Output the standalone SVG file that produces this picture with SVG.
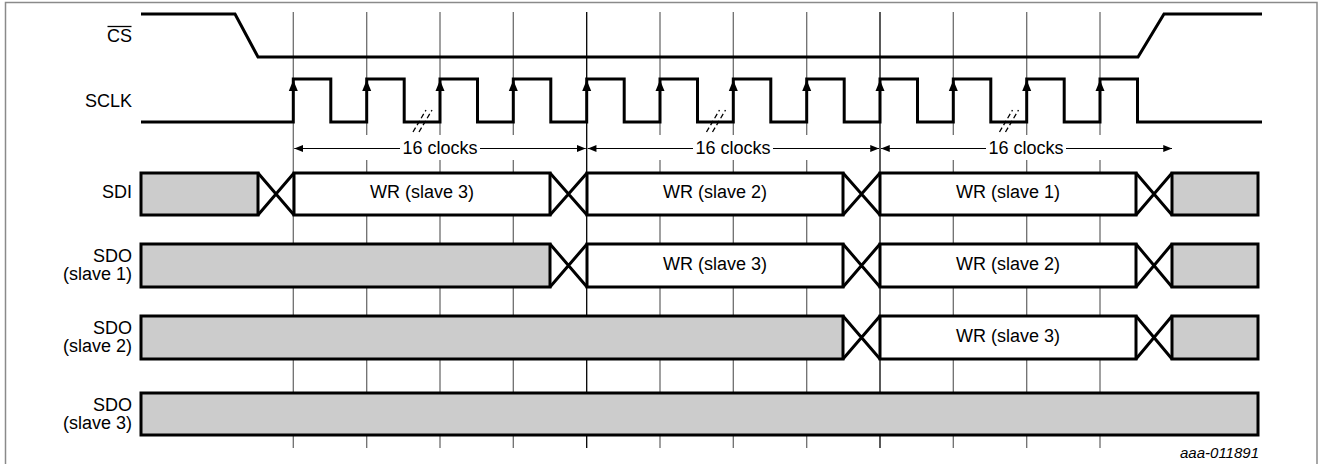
<svg xmlns="http://www.w3.org/2000/svg" xmlns:xlink="http://www.w3.org/1999/xlink" width="1326" height="464" viewBox="0 0 1326 464">
<style>
  text { font-family: "Liberation Sans", Arial, sans-serif; font-size: 18px; fill: #000; }
  .lbl { text-anchor: end; }
  .mid { text-anchor: middle; }
  .id { font-size: 15px; font-style: italic; text-anchor: end; }
  .grid { stroke: #6e6e6e; stroke-width: 1.3; fill: none; }
  .gridb { stroke: #000; stroke-width: 1.3; fill: none; }
  .wave { stroke: #000; stroke-width: 3; fill: none; stroke-linejoin: miter; }
  .gray { fill: #cccccc; stroke: #000; stroke-width: 3; }
  .white { fill: #ffffff; stroke: #000; stroke-width: 3; }
  .x { stroke: #000; stroke-width: 3; fill: none; }
  .dim { stroke: #000; stroke-width: 1.2; fill: none; }
  .brk { stroke: #000; stroke-width: 1.3; stroke-dasharray: 5 3; fill: none; }
</style>
<defs>
  <marker id="ah" viewBox="0 0 10 8" refX="10" refY="4" markerWidth="9" markerHeight="7" markerUnits="userSpaceOnUse" orient="auto-start-reverse">
    <path d="M0,0 L10,4 L0,8 z" fill="#000"/>
  </marker>
  <path id="up" d="M0,80 L-4.5,91 L4.5,91 z" fill="#000"/>
</defs>

<rect x="5.5" y="2.5" width="1311.5" height="470" fill="#ffffff" stroke="#8a8a8a" stroke-width="1.5"/>

<g id="grid">
  <line class="grid" x1="293.3" y1="12" x2="293.3" y2="448"/>
  <line class="gridb" x1="586.7" y1="12" x2="586.7" y2="448"/>
  <line class="gridb" x1="880" y1="12" x2="880" y2="448"/>
  <path class="grid" d="M366.7,12 V135 M366.7,160 V448 M440,12 V135 M440,160 V448 M513.3,12 V135 M513.3,160 V448 M660,12 V135 M660,160 V448 M733.3,12 V135 M733.3,160 V448 M806.7,12 V135 M806.7,160 V448 M953.3,12 V135 M953.3,160 V448 M1026.7,12 V135 M1026.7,160 V448 M1100,12 V135 M1100,160 V448"/>
</g>

<g id="labels">
  <text class="lbl" x="132" y="41.5">CS</text>
  <line x1="107.5" y1="26.5" x2="131.5" y2="26.5" stroke="#000" stroke-width="1.3"/>
  <text class="lbl" x="132" y="107">SCLK</text>
  <text class="lbl" x="132" y="198">SDI</text>
  <text class="lbl" x="132" y="262">SDO</text>
  <text class="lbl" x="132" y="280">(slave 1)</text>
  <text class="lbl" x="132" y="334">SDO</text>
  <text class="lbl" x="132" y="352">(slave 2)</text>
  <text class="lbl" x="132" y="411">SDO</text>
  <text class="lbl" x="132" y="429">(slave 3)</text>
</g>

<g id="cs">
  <path class="wave" d="M141,14 H235 L258,57 H1138 L1164,14 H1262"/>
</g>

<g id="sclk">
  <path class="wave" d="M141,122 H293.3 V79 H330.8 V122 H366.7 V79 H404.2 V122 H440 V79 H477.5 V122 H513.3 V79 H550.8 V122 H586.7 V79 H624.2 V122 H660 V79 H697.5 V122 H733.3 V79 H770.8 V122 H806.7 V79 H844.2 V122 H880 V79 H917.5 V122 H953.3 V79 H990.8 V122 H1026.7 V79 H1064.2 V122 H1100 V79 H1137.5 V122 H1262"/>
  <use xlink:href="#up" href="#up" x="293.3"/>
  <use xlink:href="#up" href="#up" x="366.7"/>
  <use xlink:href="#up" href="#up" x="440"/>
  <use xlink:href="#up" href="#up" x="513.3"/>
  <use xlink:href="#up" href="#up" x="586.7"/>
  <use xlink:href="#up" href="#up" x="660"/>
  <use xlink:href="#up" href="#up" x="733.3"/>
  <use xlink:href="#up" href="#up" x="806.7"/>
  <use xlink:href="#up" href="#up" x="880"/>
  <use xlink:href="#up" href="#up" x="953.3"/>
  <use xlink:href="#up" href="#up" x="1026.7"/>
  <use xlink:href="#up" href="#up" x="1100"/>
  <path class="brk" d="M413,132 L426,110 M419,132 L432,110"/>
  <path class="brk" d="M706.5,132 L719.5,110 M712.5,132 L725.5,110"/>
  <path class="brk" d="M999.5,132 L1012.5,110 M1005.5,132 L1018.5,110"/>
</g>

<g id="connectors">
  <line class="dim" x1="400" y1="148.5" x2="294.3" y2="148.5" marker-end="url(#ah)"/>
  <line class="dim" x1="480" y1="148.5" x2="585.7" y2="148.5" marker-end="url(#ah)"/>
  <line class="dim" x1="693" y1="148.5" x2="587.7" y2="148.5" marker-end="url(#ah)"/>
  <line class="dim" x1="773" y1="148.5" x2="879" y2="148.5" marker-end="url(#ah)"/>
  <line class="dim" x1="986" y1="148.5" x2="881" y2="148.5" marker-end="url(#ah)"/>
  <line class="dim" x1="1066" y1="148.5" x2="1172" y2="148.5" marker-end="url(#ah)"/>
</g>

<g id="clock-labels">
  <text class="mid" x="440" y="154">16 clocks</text>
  <text class="mid" x="733" y="154">16 clocks</text>
  <text class="mid" x="1026" y="154">16 clocks</text>
</g>

<g id="sdi">
  <rect class="gray" x="141" y="173" width="117" height="42"/>
  <path class="x" d="M258,173 L294,215 M258,215 L294,173"/>
  <rect class="white" x="294" y="173" width="256" height="42"/>
  <path class="x" d="M550,173 L587,215 M550,215 L587,173"/>
  <rect class="white" x="587" y="173" width="256" height="42"/>
  <path class="x" d="M843,173 L880,215 M843,215 L880,173"/>
  <rect class="white" x="880" y="173" width="256" height="42"/>
  <path class="x" d="M1136,173 L1172,215 M1136,215 L1172,173"/>
  <rect class="gray" x="1172" y="173" width="86" height="42"/>
  <text class="mid" x="422" y="198">WR (slave 3)</text>
  <text class="mid" x="715" y="198">WR (slave 2)</text>
  <text class="mid" x="1008" y="198">WR (slave 1)</text>
</g>

<g id="sdo1">
  <rect class="gray" x="141" y="244" width="409" height="43"/>
  <path class="x" d="M550,244 L587,287 M550,287 L587,244"/>
  <rect class="white" x="587" y="244" width="256" height="43"/>
  <path class="x" d="M843,244 L880,287 M843,287 L880,244"/>
  <rect class="white" x="880" y="244" width="256" height="43"/>
  <path class="x" d="M1136,244 L1172,287 M1136,287 L1172,244"/>
  <rect class="gray" x="1172" y="244" width="86" height="43"/>
  <text class="mid" x="715" y="270">WR (slave 3)</text>
  <text class="mid" x="1008" y="270">WR (slave 2)</text>
</g>

<g id="sdo2">
  <rect class="gray" x="141" y="316" width="702" height="43"/>
  <path class="x" d="M843,316 L880,359 M843,359 L880,316"/>
  <rect class="white" x="880" y="316" width="256" height="43"/>
  <path class="x" d="M1136,316 L1172,359 M1136,359 L1172,316"/>
  <rect class="gray" x="1172" y="316" width="86" height="43"/>
  <text class="mid" x="1008" y="342">WR (slave 3)</text>
</g>

<g id="sdo3">
  <rect class="gray" x="141" y="393" width="1117" height="42"/>
</g>

<text class="id" x="1259" y="458">aaa-011891</text>
</svg>
